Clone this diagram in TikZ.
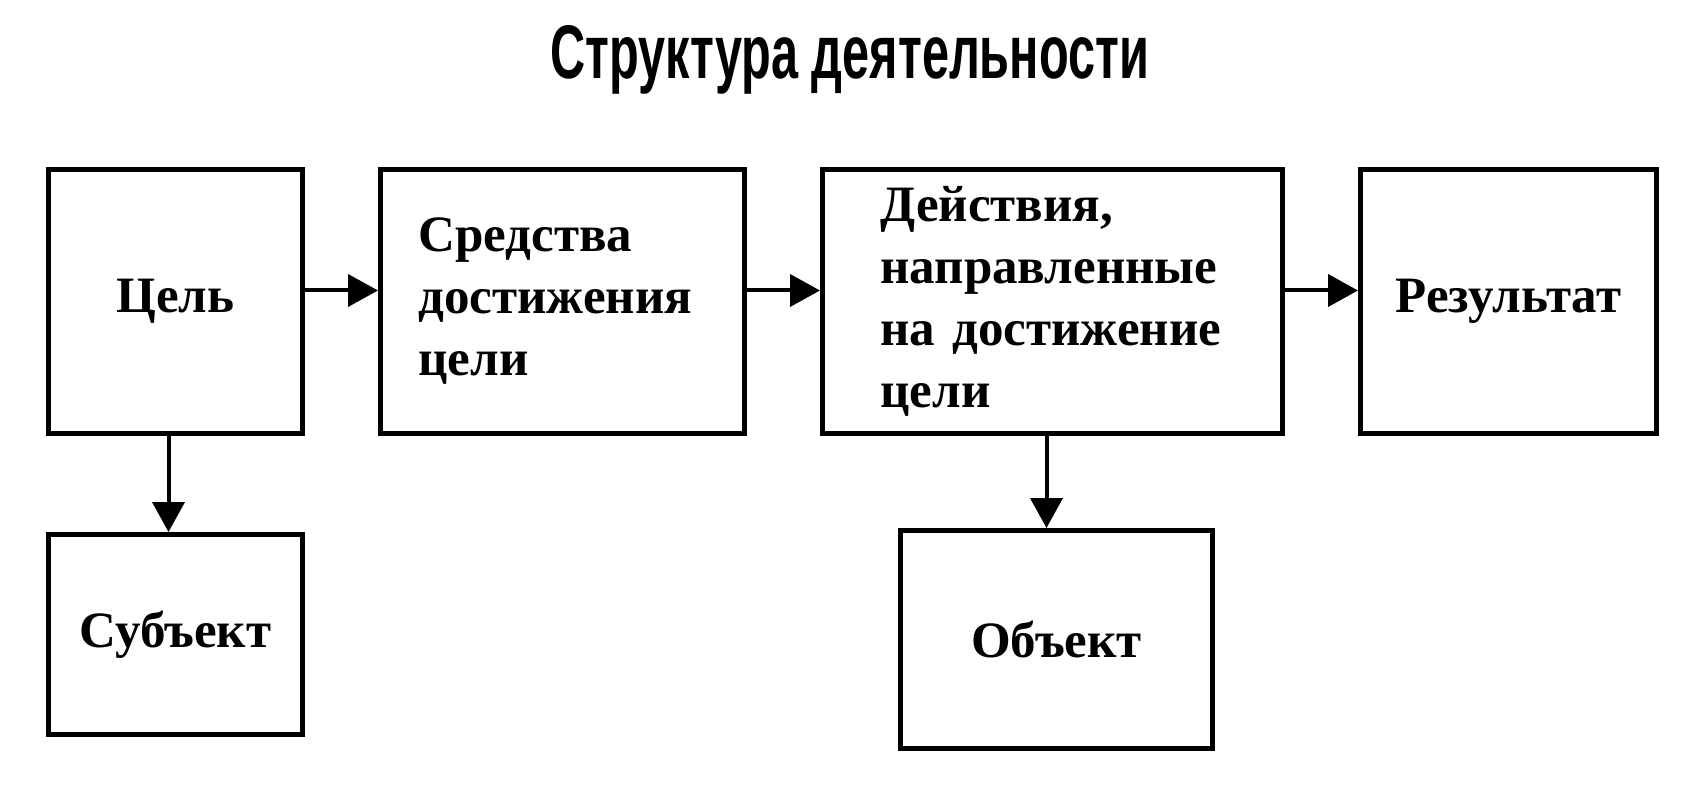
\documentclass[tikz,border=0pt]{standalone}
\usepackage{fontspec}
\usepackage{graphicx}
\setmainfont{Liberation Serif}
\newfontfamily\titlefont{Liberation Sans}
\usetikzlibrary{arrows.meta, positioning}

\begin{document}
\begin{tikzpicture}[
    >={Triangle[length=15pt, width=16pt]},
    node distance=36.5pt,
    box/.style={rectangle, draw=black, line width=2.5pt, font=\fontsize{25.5}{31}\selectfont\bfseries, minimum height=132pt, inner sep=0pt},
    link/.style={->, line width=2pt}
]
\useasboundingbox (0,0) rectangle (854pt,-401pt);

% Title
\node[anchor=base] (title) at (425pt,-39.5pt) {\scalebox{0.64}[1]{\fontsize{38}{40}\titlefont\bfseries Структура деятельности}};

% Top row
\node[box, anchor=north west, minimum width=127pt] (zel) at (23pt,-83.5pt) {Цель};
\node[box, right=of zel, text width=144pt, inner xsep=19pt, align=left] (sred) {Средства\\достижения\\цели};
\node[box, right=of sred, text width=172pt, inner xsep=29pt, align=left] (deyst) {Действия,\\направленные\\на достижение\\цели};
\node[box, right=of deyst, minimum width=148pt] (rez) {Результат};

% Bottom row
\node[box, below=48pt of zel, minimum width=127pt, minimum height=100pt] (subj) {Субъект};
\node[box, below=46pt of deyst, xshift=2pt, minimum width=156pt, minimum height=109pt] (obj) {Объект};

% Arrows
\draw[link] ([yshift=5.5pt]zel.east) -- ([yshift=5.5pt]sred.west);
\draw[link] ([yshift=5.5pt]sred.east) -- ([yshift=5.5pt]deyst.west);
\draw[link] ([yshift=5.5pt]deyst.east) -- ([yshift=5.5pt]rez.west);
\draw[link] ([xshift=-3.5pt]zel.south) -- ([xshift=-3.5pt]zel.south |- subj.north);
\draw[link] ([xshift=-3pt]deyst.south) -- ([xshift=-3pt]deyst.south |- obj.north);

\end{tikzpicture}
\end{document}
